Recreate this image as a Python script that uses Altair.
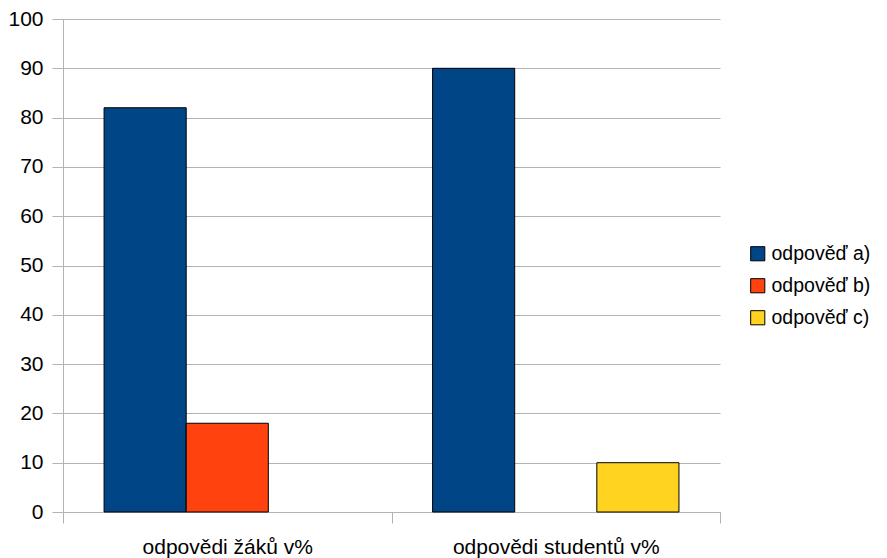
import altair as alt
import pandas as pd

groups = ["odpovědi žáků v%", "odpovědi studentů v%"]
answers = ["odpověď a)", "odpověď b)", "odpověď c)"]
values_zaci = [82, 18, 0]
values_studenti = [90, 0, 10]
colors = ["#004586", "#ff420e", "#ffd320"]

rows = []
for g, vals in zip(groups, [values_zaci, values_studenti]):
    for a, v in zip(answers, vals):
        if v > 0:
            rows.append({"group": g, "answer": a, "value": v})
df = pd.DataFrame(rows)

font = "Liberation Sans"
fs = 21

chart = alt.Chart(df).mark_bar(stroke="black", strokeWidth=1).encode(
    x=alt.X("group:N", sort=groups, title=None,
            scale=alt.Scale(domain=groups, paddingInner=0, paddingOuter=0),
            axis=alt.Axis(labelAngle=0, tickBand="extent", grid=False,
                          domainColor="#b3b3b3", tickColor="#b3b3b3", tickSize=11,
                          labelFontSize=fs, labelFont=font, labelColor="black",
                          labelPadding=13, labelLimit=400)),
    xOffset=alt.XOffset("answer:N", sort=answers,
                        scale=alt.Scale(domain=answers, paddingInner=0, paddingOuter=0.5)),
    y=alt.Y("value:Q", title=None,
            scale=alt.Scale(domain=[0, 100], nice=False),
            axis=alt.Axis(values=list(range(0, 101, 10)), gridColor="#b3b3b3",
                          domainColor="#b3b3b3", tickColor="#b3b3b3", tickSize=11,
                          labelFontSize=fs, labelFont=font, labelColor="black",
                          labelPadding=9)),
    color=alt.Color("answer:N", sort=answers,
                    scale=alt.Scale(domain=answers, range=colors),
                    legend=alt.Legend(title=None, orient="none", legendX=685, legendY=225,
                                      symbolType="square", symbolSize=200,
                                      symbolStrokeColor="black", symbolStrokeWidth=1,
                                      symbolOpacity=1,
                                      labelFontSize=19.5, labelFont=font, labelColor="black",
                                      rowPadding=11, labelOffset=4, labelLimit=300)),
).properties(
    width=657, height=493,
    autosize=alt.AutoSizeParams(type="none"),
    padding={"left": 55, "top": 11, "right": 159, "bottom": 52},
).configure_view(stroke=None)

chart.save("out.html", embed_options={"renderer": "svg", "actions": False})
